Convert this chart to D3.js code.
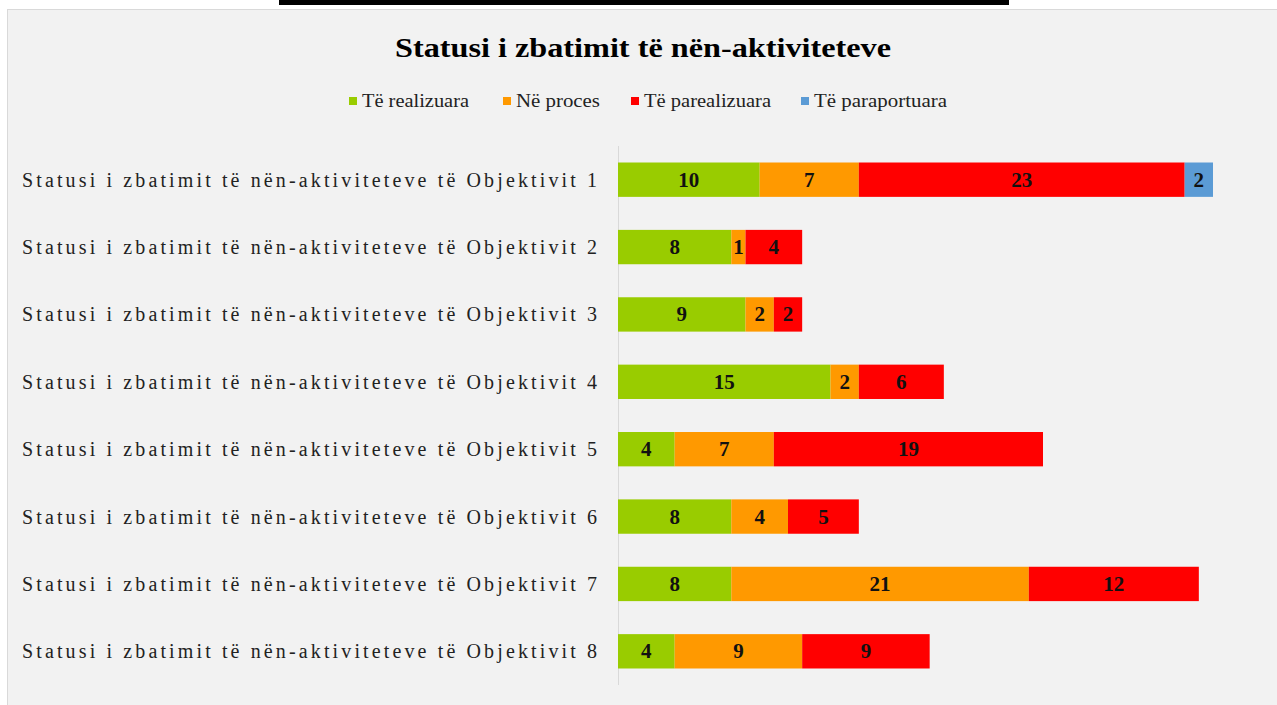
<!DOCTYPE html>
<html>
<head>
<meta charset="utf-8">
<script src="https://cdn.jsdelivr.net/npm/d3@7"></script>
<style>
  body { margin: 0; background: #fff; }
  svg { display: block; }
</style>
</head>
<body>
<script>
(function(){

  //chart data
  var categories = [
    "Statusi i zbatimit të nën-aktiviteteve të Objektivit 1",
    "Statusi i zbatimit të nën-aktiviteteve të Objektivit 2",
    "Statusi i zbatimit të nën-aktiviteteve të Objektivit 3",
    "Statusi i zbatimit të nën-aktiviteteve të Objektivit 4",
    "Statusi i zbatimit të nën-aktiviteteve të Objektivit 5",
    "Statusi i zbatimit të nën-aktiviteteve të Objektivit 6",
    "Statusi i zbatimit të nën-aktiviteteve të Objektivit 7",
    "Statusi i zbatimit të nën-aktiviteteve të Objektivit 8"
  ];
  var seriesNames = ["Të realizuara", "Në proces", "Të parealizuara", "Të paraportuara"];
  var realizuara   = [10, 8, 9, 15, 4, 8, 8, 4];
  var neProces     = [7, 1, 2, 2, 7, 4, 21, 9];
  var parealizuara = [23, 4, 2, 6, 19, 5, 12, 9];
  var paraportuara = [2, 0, 0, 0, 0, 0, 0, 0];
  var colors = ["#99cc00", "#ff9900", "#ff0000", "#5b9bd5"];

  var width = 1277, height = 705;

  var svg = d3.select("body").append("svg")
    .attr("width", width)
    .attr("height", height);

  //black strip at top
  svg.append("rect").attr("x", 279).attr("y", 0).attr("width", 730).attr("height", 5).attr("fill", "#000");

  //chart panel
  svg.append("rect")
    .attr("x", 7.5).attr("y", 9.5)
    .attr("width", 1280).attr("height", 700)
    .attr("fill", "#f2f2f2")
    .attr("stroke", "#d9d9d9");

  //title
  svg.append("text")
    .attr("x", 643).attr("y", 57)
    .attr("text-anchor", "middle")
    .attr("font-family", "Liberation Serif, serif")
    .attr("font-weight", "bold")
    .attr("font-size", 28)
    .attr("textLength", 496)
    .attr("lengthAdjust", "spacingAndGlyphs")
    .text("Statusi i zbatimit të nën-aktiviteteve");

  //legend
  var legendX = [349, 503, 631, 801];
  var legendW = [107, 84, 127, 133];
  var legend = svg.selectAll(".legend")
    .data(seriesNames)
    .enter().append("g")
    .attr("class", "legend")
    .attr("transform", function(d, i){ return "translate(" + legendX[i] + ",101)"; });
  legend.append("rect")
    .attr("x", 0).attr("y", -4)
    .attr("width", 8).attr("height", 8)
    .attr("fill", function(d, i){ return colors[i]; });
  legend.append("text")
    .attr("x", 13).attr("y", 6)
    .attr("font-family", "Liberation Serif, serif")
    .attr("font-size", 19)
    .attr("fill", "#222")
    .attr("textLength", function(d, i){ return legendW[i]; })
    .attr("lengthAdjust", "spacingAndGlyphs")
    .text(function(d){ return d; });

  //stack data
  var rows = categories.map(function(c, i){
    return {cat: c, s0: realizuara[i], s1: neProces[i], s2: parealizuara[i], s3: paraportuara[i]};
  });
  var stack = d3.stack().keys(["s0", "s1", "s2", "s3"]);
  var layers = stack(rows);

  var x = d3.scaleLinear().domain([0, 42]).range([618, 1213]);
  var y = d3.scaleBand().domain(categories).range([146, 685]).paddingInner(0.49).paddingOuter(0.245);

  //vertical axis line
  svg.append("line")
    .attr("x1", 618.5).attr("x2", 618.5)
    .attr("y1", 146).attr("y2", 685)
    .attr("stroke", "#d9d9d9");

  //category labels
  svg.selectAll(".cat")
    .data(categories)
    .enter().append("text")
    .attr("class", "cat")
    .attr("x", 597)
    .attr("y", function(d){ return y(d) + y.bandwidth() / 2 + 7; })
    .attr("text-anchor", "end")
    .attr("font-family", "Liberation Serif, serif")
    .attr("font-size", 20)
    .attr("fill", "#222")
    .attr("textLength", 575)
    .attr("lengthAdjust", "spacing")
    .text(function(d){ return d; });

  //bars
  var groups = svg.selectAll(".layer")
    .data(layers)
    .enter().append("g")
    .attr("class", "layer")
    .attr("fill", function(d, i){ return colors[i]; });

  groups.selectAll("rect")
    .data(function(d){ return d.filter(function(p){ return p[1] > p[0]; }); })
    .enter().append("rect")
    .attr("x", function(d){ return x(d[0]); })
    .attr("y", function(d){ return y(d.data.cat); })
    .attr("width", function(d){ return x(d[1]) - x(d[0]); })
    .attr("height", y.bandwidth());

  //value labels
  groups.selectAll("text")
    .data(function(d){ return d.filter(function(p){ return p[1] > p[0]; }); })
    .enter().append("text")
    .attr("x", function(d){ return (x(d[0]) + x(d[1])) / 2; })
    .attr("y", function(d){ return y(d.data.cat) + y.bandwidth() / 2 + 7; })
    .attr("text-anchor", "middle")
    .attr("font-family", "Liberation Serif, serif")
    .attr("font-weight", "bold")
    .attr("font-size", 21)
    .attr("fill", "#111")
    .text(function(d){ return d[1] - d[0]; });
})();
</script>
</body>
</html>
